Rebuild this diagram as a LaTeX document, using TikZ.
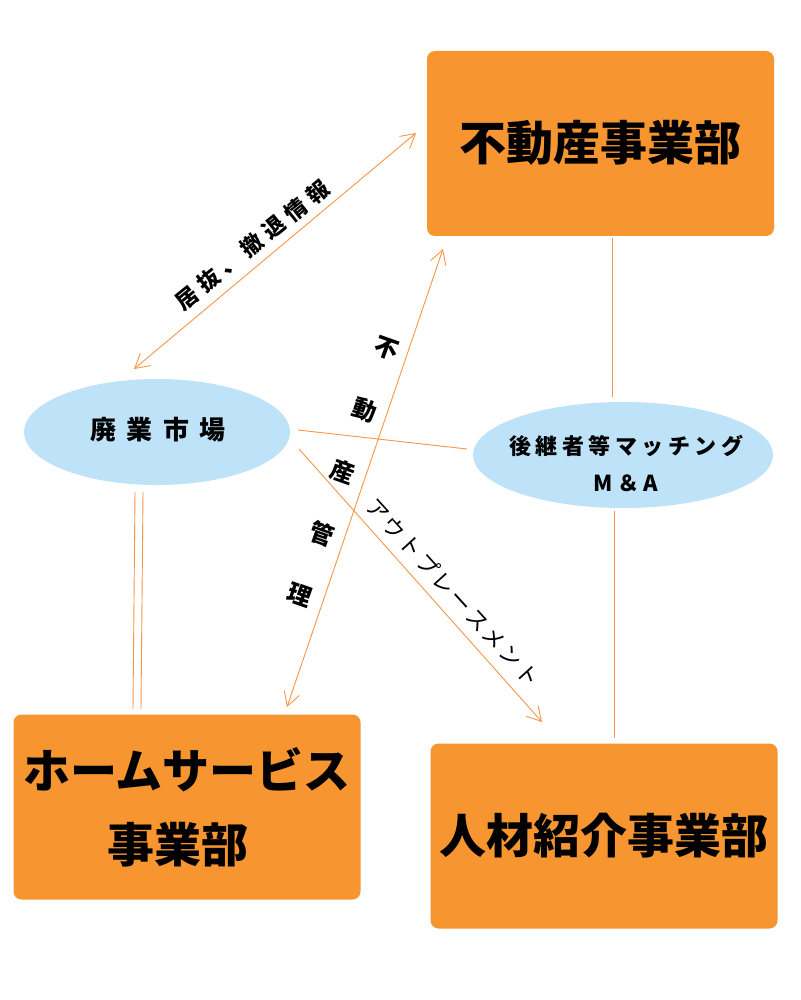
\documentclass[tikz,border=0pt]{standalone}
\usepackage{fontspec}
\setmainfont{Noto Sans CJK JP}
\usetikzlibrary{arrows.meta,shapes.geometric}
\definecolor{boxor}{RGB}{247,150,48}
\definecolor{lineor}{RGB}{247,150,70}
\definecolor{ellblue}{RGB}{190,226,247}
\newlength\spgap
\newcommand\lsp[2]{\setlength\spgap{#1}\lspaux#2\relax}
\def\lspaux#1{#1\futurelet\lspnext\lspcheck}
\def\lspcheck{\ifx\lspnext\relax\expandafter\lspstop\else\hspace{\spgap}\expandafter\lspaux\fi}
\def\lspstop\relax{}
\begin{document}
\begin{tikzpicture}[x=1pt,y=-1pt,
  dept/.style={fill=boxor, rounded corners=8pt, minimum width=347pt, minimum height=185pt,
    inner sep=0pt, align=center, font=\fontsize{47}{74}\selectfont\bfseries},
  mkt/.style={ellipse, fill=ellblue, inner sep=0pt},
  conn/.style={draw=lineor, line width=0.9pt},
  arr/.style={conn, -{Straight Barb[length=14pt,width=16pt]}},
  darr/.style={conn, {Straight Barb[length=14pt,width=16pt]}-{Straight Barb[length=14pt,width=16pt]}},
  lbl/.style={inner sep=0pt, text=black, align=center}
]
\useasboundingbox (0,0) rectangle (800,1000);
\fill[white] (0,0) rectangle (800,1000);

% department boxes
\node[dept] (fudosan) at (600.5,143.5) {\raisebox{6.5pt}{不動産事業部}};
\node[dept] (home) at (187,807) {ホームサービス\\事業部\kern18pt};
\node[dept] (jinzai) at (604,836) {\raisebox{-3pt}{人材紹介事業部}};

% ellipses
\node[mkt, minimum width=266pt, minimum height=106pt] (haigyo) at (157,432) {};
\node[mkt, minimum width=300pt, minimum height=106pt] (koukei) at (623,455) {};
\node[lbl, font=\fontsize{26}{30}\selectfont\bfseries] (haigyot) at (158,430)
  {\lsp{10.5pt}{廃業市場}};
\node[lbl, font=\fontsize{22}{37}\selectfont\bfseries, anchor=center] (koukeit) at (626,463)
  {\lsp{4.5pt}{後継者等マッチング}\\ \lsp{4.5pt}{M＆A}};

% connector end points
\coordinate (a1s) at (134,369);
\coordinate (a1e) at (416,133);
\coordinate (a2s) at (287,707);
\coordinate (a2e) at (443,249);
\coordinate (a3s) at (299,449);
\coordinate (a3e) at (542,722);
\coordinate (l1s) at (298,430);
\coordinate (l1e) at (467,449);
\coordinate (v1s) at (612,238);
\coordinate (v1e) at (612,397);
\coordinate (v2s) at (614,511);
\coordinate (v2e) at (614,738);
\coordinate (p1s) at (135,492);
\coordinate (p1e) at (133,709);
\coordinate (p2s) at (143,492);
\coordinate (p2e) at (141,709);

% connectors
\draw[darr] (a1s) -- (a1e);
\draw[darr] (a2s) -- (a2e);
\draw[arr] (a3s) -- (a3e);
\draw[conn] (l1s) -- (l1e);
\draw[conn] (v1s) -- (v1e);
\draw[conn] (v2s) -- (v2e);
\draw[conn] (p1s) -- (p1e);
\draw[conn] (p2s) -- (p2e);

% labels
\node[lbl, rotate=38.9, font=\fontsize{22}{26}\selectfont\bfseries] (lbl1) at (252,245)
  {\lsp{6pt}{居抜、撤退情報}};
\node[lbl, rotate=-19.4, font=\fontsize{24}{65.5}\selectfont\bfseries] (lbl2) at (343,472)
  {不\\動\\産\\管\\理};
\node[lbl, rotate=-47.7, font=\fontsize{22}{26}\selectfont] (lbl3) at (453,592)
  {\lsp{2.8pt}{アウトプレースメント}};
\end{tikzpicture}
\end{document}
